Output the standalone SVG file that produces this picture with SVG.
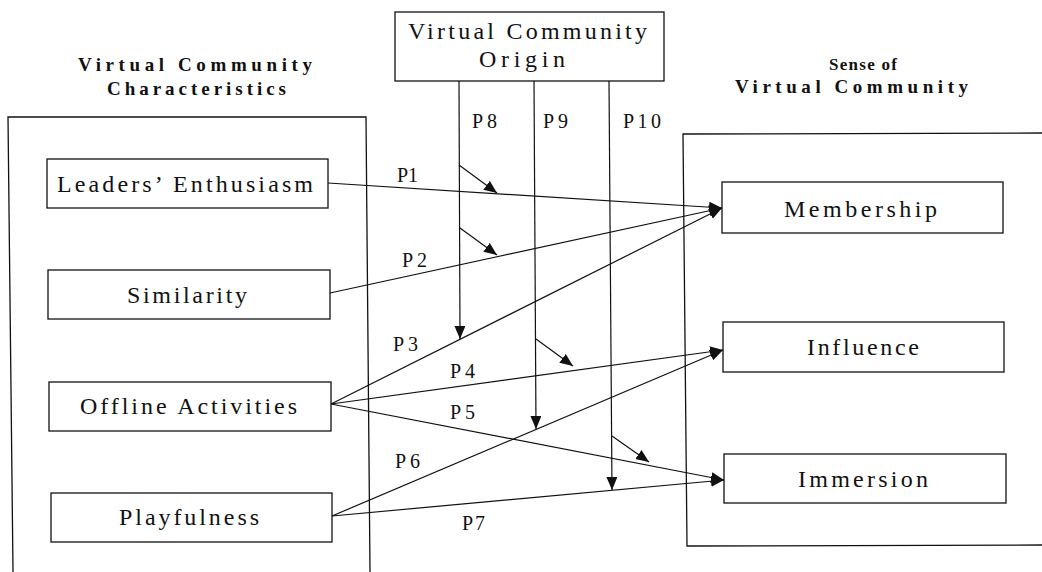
<svg xmlns="http://www.w3.org/2000/svg" width="1042" height="572" viewBox="0 0 1042 572">
<style>
  .box { fill: #fff; stroke: #111; stroke-width: 1.3; }
  .panel { fill: none; stroke: #111; stroke-width: 1.3; }
  .node { font-family: "Liberation Serif", "Times New Roman", serif; font-size: 24px; fill: #111; }
  .title { font-family: "Liberation Serif", "Times New Roman", serif; font-size: 19px; font-weight: bold; fill: #111; }
  .lbl { font-family: "Liberation Serif", "Times New Roman", serif; font-size: 20px; fill: #111; }
  .edge { fill: none; stroke: #111; stroke-width: 1.2; marker-end: url(#arr); }
</style>
<defs>
  <marker id="arr" markerUnits="userSpaceOnUse" markerWidth="14" markerHeight="12" refX="13" refY="5.5" orient="auto">
    <path d="M0,0 L13,5.5 L0,11 z" fill="#111"/>
  </marker>
</defs>
<rect width="1042" height="572" fill="#fff"/>

<g id="panel-characteristics">
  <path class="panel" d="M13,572 L8,117 L366,117 L370,572"/>
  <text class="title" x="78" y="71" textLength="234" lengthAdjust="spacing">Virtual Community</text>
  <text class="title" x="107" y="95" textLength="179" lengthAdjust="spacing">Characteristics</text>
</g>

<g id="panel-sense">
  <path class="panel" d="M1045,133 L683,134 L687,546 L1045,545"/>
  <text class="title" x="829" y="70" textLength="68" lengthAdjust="spacing" style="font-size:17px">Sense of</text>
  <text class="title" x="735" y="93" textLength="233" lengthAdjust="spacing">Virtual Community</text>
</g>

<g id="node-origin">
  <rect class="box" x="395" y="12" width="269" height="69"/>
  <text class="node" x="408" y="39" textLength="239" lengthAdjust="spacing">Virtual Community</text>
  <text class="node" x="479" y="67" textLength="86" lengthAdjust="spacing">Origin</text>
</g>

<g id="node-leaders">
  <rect class="box" x="47" y="159" width="281" height="49"/>
  <text class="node" x="57" y="192" textLength="256" lengthAdjust="spacing">Leaders’ Enthusiasm</text>
</g>
<g id="node-similarity">
  <rect class="box" x="48" y="270" width="282" height="49"/>
  <text class="node" x="127" y="303" textLength="120" lengthAdjust="spacing">Similarity</text>
</g>
<g id="node-offline">
  <rect class="box" x="49" y="382" width="282" height="49"/>
  <text class="node" x="80" y="414" textLength="217" lengthAdjust="spacing">Offline Activities</text>
</g>
<g id="node-playfulness">
  <rect class="box" x="51" y="493" width="281" height="49"/>
  <text class="node" x="119" y="525" textLength="140" lengthAdjust="spacing">Playfulness</text>
</g>

<g id="node-membership">
  <rect class="box" x="722" y="182" width="281" height="51"/>
  <text class="node" x="784" y="217" textLength="153" lengthAdjust="spacing">Membership</text>
</g>
<g id="node-influence">
  <rect class="box" x="723" y="322" width="281" height="50"/>
  <text class="node" x="807" y="355" textLength="112" lengthAdjust="spacing">Influence</text>
</g>
<g id="node-immersion">
  <rect class="box" x="724" y="454" width="282" height="49"/>
  <text class="node" x="798" y="487" textLength="130" lengthAdjust="spacing">Immersion</text>
</g>

<g id="connectors">
  <line class="edge" x1="328" y1="183" x2="722" y2="208"/>
  <line class="edge" x1="330" y1="293" x2="722" y2="208"/>
  <line class="edge" x1="331" y1="404" x2="722" y2="208"/>
  <line class="edge" x1="331" y1="404" x2="723" y2="350"/>
  <line class="edge" x1="331" y1="404" x2="724" y2="480"/>
  <line class="edge" x1="332" y1="516" x2="723" y2="350"/>
  <line class="edge" x1="332" y1="516" x2="724" y2="480"/>
  <line class="edge" x1="459" y1="81" x2="460" y2="339"/>
  <line class="edge" x1="534" y1="81" x2="536" y2="429"/>
  <line class="edge" x1="609" y1="81" x2="612" y2="490"/>
  <line class="edge" x1="459" y1="165" x2="497" y2="193"/>
  <line class="edge" x1="460" y1="228" x2="497" y2="255"/>
  <line class="edge" x1="536" y1="339" x2="573" y2="366"/>
  <line class="edge" x1="612" y1="436" x2="649" y2="462"/>
  <text class="lbl" x="397" y="182" textLength="21" lengthAdjust="spacing">P1</text>
  <text class="lbl" x="402" y="267" textLength="25" lengthAdjust="spacing">P2</text>
  <text class="lbl" x="393" y="351" textLength="25" lengthAdjust="spacing">P3</text>
  <text class="lbl" x="450" y="378" textLength="25" lengthAdjust="spacing">P4</text>
  <text class="lbl" x="450" y="419" textLength="25" lengthAdjust="spacing">P5</text>
  <text class="lbl" x="395" y="468" textLength="25" lengthAdjust="spacing">P6</text>
  <text class="lbl" x="462" y="530" textLength="23" lengthAdjust="spacing">P7</text>
  <text class="lbl" x="472" y="128" textLength="25" lengthAdjust="spacing">P8</text>
  <text class="lbl" x="543" y="128" textLength="25" lengthAdjust="spacing">P9</text>
  <text class="lbl" x="623" y="128" textLength="38" lengthAdjust="spacing">P10</text>
</g>
</svg>
